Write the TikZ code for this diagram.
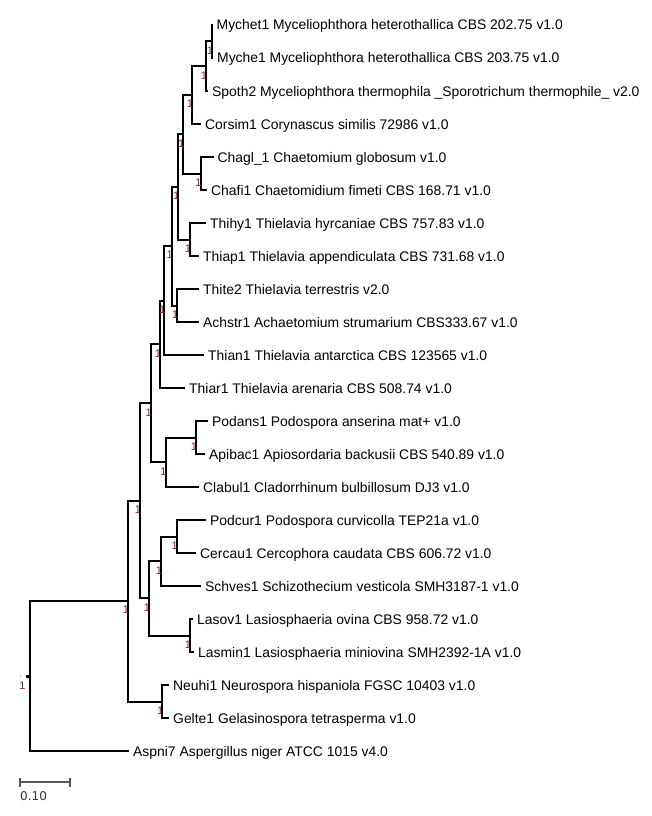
\documentclass[tikz,border=0pt]{standalone}
\usepackage{fontspec}
\setmainfont{Liberation Sans}
\newfontfamily\barfont{DejaVu Sans}
\definecolor{supcol}{RGB}{140,35,35}
\definecolor{barcol}{RGB}{85,85,85}
\tikzset{
  branch/.style={line width=2pt},
  leaf/.style={anchor=west,inner xsep=4pt,inner ysep=0pt,text height=10pt,text depth=0pt,
    font=\fontsize{13.9}{16}\selectfont},
  supp/.style={text=supcol,inner sep=0pt,xshift=-2pt,yshift=-9pt,
    font=\fontsize{11}{11}\selectfont}
}
\begin{document}
\begin{tikzpicture}[x=1pt,y=-1pt]
\useasboundingbox (0,0) rectangle (651,816);

% leaves (tip of branch = west anchor)
\node[leaf] (mychet) at (212.5,25) {Mychet1 Myceliophthora heterothallica CBS 202.75 v1.0};
\node[leaf] (myche) at (213,58) {Myche1 Myceliophthora heterothallica CBS 203.75 v1.0};
\node[leaf] (spoth) at (208,91) {Spoth2 Myceliophthora thermophila \_Sporotrichum thermophile\_ v2.0};
\node[leaf] (corsim) at (201,124) {Corsim1 Corynascus similis 72986 v1.0};
\node[leaf] (chagl) at (213.5,157) {Chagl\_1 Chaetomium globosum v1.0};
\node[leaf] (chafi) at (207,190) {Chafi1 Chaetomidium fimeti CBS 168.71 v1.0};
\node[leaf] (thihy) at (206,223) {Thihy1 Thielavia hyrcaniae CBS 757.83 v1.0};
\node[leaf] (thiap) at (199,256) {Thiap1 Thielavia appendiculata CBS 731.68 v1.0};
\node[leaf] (thite) at (199,289) {Thite2 Thielavia terrestris v2.0};
\node[leaf] (achstr) at (199,322) {Achstr1 Achaetomium strumarium CBS333.67 v1.0};
\node[leaf] (thian) at (204,355) {Thian1 Thielavia antarctica CBS 123565 v1.0};
\node[leaf] (thiar) at (185,388) {Thiar1 Thielavia arenaria CBS 508.74 v1.0};
\node[leaf] (podans) at (208,421) {Podans1 Podospora anserina mat+ v1.0};
\node[leaf] (apibac) at (205,454) {Apibac1 Apiosordaria backusii CBS 540.89 v1.0};
\node[leaf] (clabul) at (199,487) {Clabul1 Cladorrhinum bulbillosum DJ3 v1.0};
\node[leaf] (podcur) at (206,520) {Podcur1 Podospora curvicolla TEP21a v1.0};
\node[leaf] (cercau) at (196,553) {Cercau1 Cercophora caudata CBS 606.72 v1.0};
\node[leaf] (schves) at (201,586) {Schves1 Schizothecium vesticola SMH3187-1 v1.0};
\node[leaf] (lasov) at (193,619) {Lasov1 Lasiosphaeria ovina CBS 958.72 v1.0};
\node[leaf] (lasmin) at (194,652) {Lasmin1 Lasiosphaeria miniovina SMH2392-1A v1.0};
\node[leaf] (neuhi) at (169,685) {Neuhi1 Neurospora hispaniola FGSC 10403 v1.0};
\node[leaf] (gelte) at (169,718) {Gelte1 Gelasinospora tetrasperma v1.0};
\node[leaf] (aspni) at (129,751) {Aspni7 Aspergillus niger ATCC 1015 v4.0};

% inner nodes
\coordinate (nA) at (212,41.5);
\coordinate (nB) at (206,66.25);
\coordinate (nC) at (192,95.13);
\coordinate (nE) at (200.5,173.5);
\coordinate (nD) at (183.3,134.31);
\coordinate (nF) at (190,239.5);
\coordinate (nG) at (178.3,186.91);
\coordinate (nV) at (177.3,305.5);
\coordinate (nU) at (171.7,246.2);
\coordinate (nT) at (164.3,300.6);
\coordinate (nS) at (160,344.3);
\coordinate (nO) at (196,437.5);
\coordinate (nR) at (165.5,462.25);
\coordinate (nQ) at (150.7,403.27);
\coordinate (nP) at (176.7,536.5);
\coordinate (nL) at (161,561.25);
\coordinate (nM) at (190,635.5);
\coordinate (nK) at (149,598.38);
\coordinate (nJ) at (140,500.82);
\coordinate (nN) at (162.3,701.5);
\coordinate (nI) at (128,601.16);
\coordinate (root) at (30,676.08);

% branches
\draw[branch] (nA) |- (mychet.west) (nA) |- (myche.west);
\draw[branch] (nB) |- (nA) (nB) |- (spoth.west);
\draw[branch] (nC) |- (nB) (nC) |- (corsim.west);
\draw[branch] (nE) |- (chagl.west) (nE) |- (chafi.west);
\draw[branch] (nD) |- (nC) (nD) |- (nE);
\draw[branch] (nF) |- (thihy.west) (nF) |- (thiap.west);
\draw[branch] (nG) |- (nD) (nG) |- (nF);
\draw[branch] (nV) |- (thite.west) (nV) |- (achstr.west);
\draw[branch] (nU) |- (nG) (nU) |- (nV);
\draw[branch] (nT) |- (nU) (nT) |- (thian.west);
\draw[branch] (nS) |- (nT) (nS) |- (thiar.west);
\draw[branch] (nO) |- (podans.west) (nO) |- (apibac.west);
\draw[branch] (nR) |- (nO) (nR) |- (clabul.west);
\draw[branch] (nQ) |- (nS) (nQ) |- (nR);
\draw[branch] (nP) |- (podcur.west) (nP) |- (cercau.west);
\draw[branch] (nL) |- (nP) (nL) |- (schves.west);
\draw[branch] (nM) |- (lasov.west) (nM) |- (lasmin.west);
\draw[branch] (nK) |- (nL) (nK) |- (nM);
\draw[branch] (nJ) |- (nQ) (nJ) |- (nK);
\draw[branch] (nN) |- (neuhi.west) (nN) |- (gelte.west);
\draw[branch] (nI) |- (nJ) (nI) |- (nN);
\draw[branch] (root) |- (nI) (root) |- (aspni.west);

% support values
\foreach \n in {nA,nB,nC,nD,nE,nF,nG,nU,nV,nT,nS,nO,nR,nQ,nP,nL,nM,nK,nJ,nN,nI}
  \node[supp] (s\n) at (\n) {1};
\node[fill=black,inner sep=0pt,minimum size=3.5pt] (rootsq) at (27.5,676.5) {};
\node[fill=gray,circle,inner sep=0pt,minimum size=1.2pt] (rootpt) at (20.7,676) {};
\node[text=supcol,inner sep=0pt,font=\fontsize{11}{11}\selectfont] (sroot) at (22.5,686) {1};

% scale bar
\coordinate (bar0) at (20,782);
\coordinate (bar1) at (70,782);
\draw[barcol,line width=1.2pt] (bar0) -- (bar1);
\draw[barcol,line width=1.2pt] ([yshift=4.5pt]bar0) -- ([yshift=-4.5pt]bar0);
\draw[barcol,line width=1.2pt] ([yshift=4.5pt]bar1) -- ([yshift=-4.5pt]bar1);
\node[anchor=west,inner sep=0pt,text=black!80,font=\barfont\fontsize{12}{12}\selectfont] (bartxt) at (20,796) {0.10};
\end{tikzpicture}
\end{document}
